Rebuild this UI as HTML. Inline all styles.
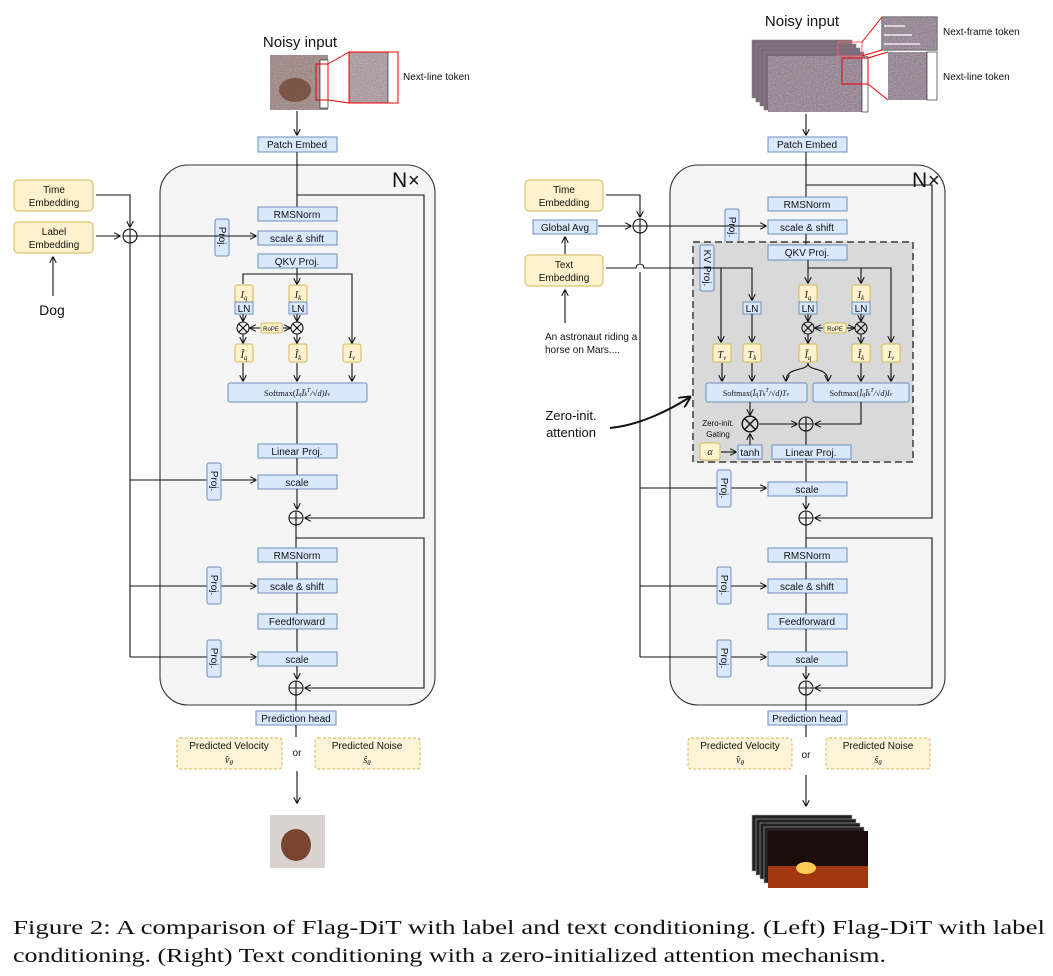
<!DOCTYPE html>
<html><head><meta charset="utf-8"><style>
html,body{margin:0;padding:0;background:#fff;width:1053px;height:976px;overflow:hidden}
svg{display:block}
text{font-family:"Liberation Sans",sans-serif;font-size:10px;fill:#111}
.b{fill:#dae8fc;stroke:#6c8ebf;stroke-width:1}
.y{fill:#fff2cc;stroke:#d6b656;stroke-width:1}
.l{fill:none;stroke:#111;stroke-width:1.1}
.m{font-family:"Liberation Serif",serif;font-style:italic}
.c{text-anchor:middle}
</style></head><body>
<svg width="1053" height="976" viewBox="0 0 1053 976" xmlns="http://www.w3.org/2000/svg">
<defs>
<marker id="a" viewBox="0 0 10 10" refX="9" refY="5" markerWidth="6" markerHeight="6" orient="auto-start-reverse"><path d="M0,0 L10,5 L0,10" fill="none" stroke="#111" stroke-width="1.6"/></marker>
<filter id="nz" x="0" y="0" width="100%" height="100%"><feTurbulence type="fractalNoise" baseFrequency="0.9" numOctaves="1" seed="3"/><feColorMatrix type="matrix" values="1.2 0 0 0 -0.05  0 1.1 0 0 -0.1  0 0 1.3 0 -0.1  0 0 0 0 1"/></filter>
<g id="ox"><circle r="7" fill="none" stroke="#111" stroke-width="1.1"/><path d="M-7,0H7M0,-7V7" stroke="#111" stroke-width="1.1"/></g>
<g id="mx"><circle r="6" fill="none" stroke="#111" stroke-width="1.1"/><path d="M-4.2,-4.2L4.2,4.2M-4.2,4.2L4.2,-4.2" stroke="#111" stroke-width="1.1"/></g>
</defs>

<!-- ================= LEFT ================= -->
<text x="300" y="47" class="c" style="font-size:15px">Noisy input</text>
<rect x="270" y="55" width="58" height="55" fill="#8a7262"/>
<rect x="270" y="55" width="58" height="55" filter="url(#nz)" opacity="0.45"/>
<ellipse cx="295" cy="90" rx="16" ry="12" fill="#6b3f2a" opacity="0.7"/>
<rect x="320" y="60" width="8" height="48" fill="#fff" stroke="#111" stroke-width="0.6"/>
<rect x="316" y="64" width="12" height="36" fill="none" stroke="#e00" stroke-width="1"/>
<path d="M328,64 L349,52 M328,100 L349,103" stroke="#e00" stroke-width="1"/>
<rect x="349" y="52" width="49" height="51" fill="#9a8f88"/>
<rect x="349" y="52" width="49" height="51" filter="url(#nz)" opacity="0.5"/>
<rect x="388" y="52" width="10" height="51" fill="#fff" stroke="#111" stroke-width="0.6"/>
<rect x="349" y="52" width="49" height="51" fill="none" stroke="#e00" stroke-width="1"/>
<text x="403" y="80">Next-line token</text>
<path class="l" d="M297,111V135" marker-end="url(#a)"/>
<rect class="b" x="258" y="137" width="79" height="15"/><text x="297" y="148" class="c">Patch Embed</text>

<rect x="160" y="165" width="275" height="540" rx="28" fill="#f5f5f5" stroke="#333" stroke-width="1.1"/>
<text x="392" y="187" style="font-size:21px">N</text><text x="408" y="187" style="font-size:20px">×</text>

<path class="l" d="M297,152V207"/>
<path class="l" d="M297,195H424V518H305" marker-end="url(#a)"/>
<rect class="b" x="258" y="207" width="79" height="14"/><text x="297" y="218" class="c">RMSNorm</text>
<rect class="b" x="215" y="219" width="14" height="37" rx="2"/><text transform="translate(219,237) rotate(90)" class="c">Proj.</text>
<rect class="b" x="258" y="231" width="79" height="14"/><text x="297" y="242" class="c">scale &amp; shift</text>
<rect class="b" x="258" y="254" width="79" height="14"/><text x="297" y="265" class="c">QKV Proj.</text>

<rect class="y" x="14" y="180" width="79" height="31" rx="4"/><text x="54" y="193" class="c">Time</text><text x="54" y="206" class="c">Embedding</text>
<rect class="y" x="14" y="222" width="79" height="31" rx="4"/><text x="54" y="235" class="c">Label</text><text x="54" y="248" class="c">Embedding</text>
<path class="l" d="M96,195H130V227" marker-end="url(#a)"/>
<path class="l" d="M96,236H120" marker-end="url(#a)"/>
<use href="#ox" x="130" y="236"/>
<path class="l" d="M53,296V257" marker-end="url(#a)"/>
<text x="52" y="315" class="c" style="font-size:14px">Dog</text>
<path class="l" d="M137,236H256" marker-end="url(#a)"/>
<path class="l" d="M130,243V657"/>
<path class="l" d="M130,480H256" marker-end="url(#a)"/>
<path class="l" d="M130,586H256" marker-end="url(#a)"/>
<path class="l" d="M130,657H256" marker-end="url(#a)"/>

<path class="l" d="M297,268V284" marker-end="url(#a)"/>
<path class="l" d="M243,284V274H352V343" marker-end="url(#a)"/>
<rect class="y" x="235" y="285" width="18" height="17" rx="2"/><text x="244" y="298" class="c m" style="font-size:10px">I<tspan style="font-size:7px" dy="2">q</tspan></text>
<rect class="y" x="289" y="285" width="18" height="17" rx="2"/><text x="298" y="298" class="c m" style="font-size:10px">I<tspan style="font-size:7px" dy="2">k</tspan></text>
<rect class="b" x="235" y="302" width="18" height="12"/><text x="244" y="312" class="c">LN</text>
<rect class="b" x="289" y="302" width="18" height="12"/><text x="298" y="312" class="c">LN</text>
<path class="l" d="M243,314V321" marker-end="url(#a)"/><path class="l" d="M297,314V321" marker-end="url(#a)"/>
<use href="#mx" x="243" y="328"/><use href="#mx" x="297" y="328"/>
<rect class="y" x="261" y="323" width="21" height="10" rx="2"/><text x="271" y="331" class="c" style="font-size:6px">RoPE</text>
<path class="l" d="M260,328H250" marker-end="url(#a)"/><path class="l" d="M283,328H290" marker-end="url(#a)"/>
<path class="l" d="M243,334V343" marker-end="url(#a)"/><path class="l" d="M297,334V343" marker-end="url(#a)"/>
<rect class="y" x="235" y="344" width="18" height="18" rx="2"/><text x="244" y="358" class="c m">Ĩ<tspan style="font-size:7px" dy="2">q</tspan></text>
<rect class="y" x="289" y="344" width="18" height="18" rx="2"/><text x="298" y="358" class="c m">Ĩ<tspan style="font-size:7px" dy="2">k</tspan></text>
<rect class="y" x="343" y="344" width="18" height="18" rx="2"/><text x="352" y="358" class="c m">I<tspan style="font-size:7px" dy="2">v</tspan></text>
<path class="l" d="M243,363V381" marker-end="url(#a)"/><path class="l" d="M297,363V381" marker-end="url(#a)"/><path class="l" d="M352,363V381" marker-end="url(#a)"/>
<rect class="b" x="228" y="383" width="139" height="19" rx="2"/><text x="297" y="396" class="c" style="font-family:'Liberation Serif',serif;font-size:8.5px">Softmax(<tspan font-style="italic">Ĩ<tspan font-size="6">q</tspan>Ĩ<tspan font-size="6">k</tspan><tspan font-size="6" dy="-4">T</tspan><tspan dy="4">/√d)I</tspan><tspan font-size="6">v</tspan></tspan></text>
<path class="l" d="M297,402V444"/>
<rect class="b" x="258" y="444" width="79" height="14"/><text x="297" y="455" class="c">Linear Proj.</text>
<path class="l" d="M297,458V475"/>
<rect class="b" x="207" y="463" width="14" height="37" rx="2"/><text transform="translate(211,481) rotate(90)" class="c">Proj.</text>
<rect class="b" x="258" y="475" width="79" height="14"/><text x="297" y="486" class="c">scale</text>
<path class="l" d="M297,489V509" marker-end="url(#a)"/>
<use href="#ox" x="296" y="518"/>
<path class="l" d="M296,525V548"/>
<path class="l" d="M296,538H424V688H305" marker-end="url(#a)"/>
<rect class="b" x="258" y="548" width="79" height="14"/><text x="297" y="559" class="c">RMSNorm</text>
<rect class="b" x="207" y="567" width="14" height="37" rx="2"/><text transform="translate(211,585) rotate(90)" class="c">Proj.</text>
<rect class="b" x="258" y="579" width="79" height="14"/><text x="297" y="590" class="c">scale &amp; shift</text>
<path class="l" d="M297,562V579M297,593V614"/>
<rect class="b" x="258" y="614" width="79" height="15"/><text x="297" y="625" class="c">Feedforward</text>
<path class="l" d="M297,629V652"/>
<rect class="b" x="207" y="640" width="14" height="37" rx="2"/><text transform="translate(211,658) rotate(90)" class="c">Proj.</text>
<rect class="b" x="258" y="652" width="79" height="14"/><text x="297" y="663" class="c">scale</text>
<path class="l" d="M297,666V679" marker-end="url(#a)"/>
<use href="#ox" x="296" y="688"/>
<path class="l" d="M296,695V711"/>
<rect class="b" x="256" y="711" width="80" height="14"/><text x="296" y="722" class="c">Prediction head</text>
<path class="l" d="M296,725V737"/>
<rect class="y" x="177" y="738" width="105" height="31" rx="3" style="stroke-dasharray:3,2;fill:#fdf3d6"/><text x="229" y="749" class="c">Predicted Velocity</text><text x="229" y="763" class="c m">v̂<tspan font-size="7" dy="2">θ</tspan></text>
<text x="297" y="756" class="c">or</text>
<rect class="y" x="315" y="738" width="105" height="31" rx="3" style="stroke-dasharray:3,2;fill:#fdf3d6"/><text x="367" y="749" class="c">Predicted Noise</text><text x="367" y="763" class="c m">ŝ<tspan font-size="7" dy="2">θ</tspan></text>
<path class="l" d="M297,771V803" marker-end="url(#a)"/>
<rect x="270" y="815" width="55" height="53" fill="#d9d2ce"/>
<ellipse cx="296" cy="845" rx="15" ry="16" fill="#7a4530"/>

<!-- ================= RIGHT ================= -->
<text x="802" y="26" class="c" style="font-size:15px">Noisy input</text>
<g fill="#7c6a7a" stroke="#888" stroke-width="0.6">
<rect x="752" y="40" width="100" height="58"/><rect x="756" y="44" width="100" height="58"/><rect x="760" y="48" width="100" height="58"/><rect x="764" y="52" width="100" height="58"/>
</g>
<rect x="768" y="56" width="100" height="56" fill="#6d5f6a"/>
<rect x="768" y="56" width="100" height="56" filter="url(#nz)" opacity="0.55"/>
<rect x="862" y="58" width="6" height="54" fill="#fff" stroke="#111" stroke-width="0.6"/>
<rect x="838" y="42" width="24" height="14" fill="none" stroke="#e66" stroke-width="1"/>
<rect x="842" y="58" width="26" height="26" fill="none" stroke="#e00" stroke-width="1"/>
<path d="M862,42L882,17M862,56L882,50M868,58L888,52M868,84L888,100" stroke="#e00" stroke-width="1"/>
<rect x="882" y="17" width="55" height="33" fill="#6d5f6a" stroke="#111" stroke-width="0.8"/>
<rect x="882" y="17" width="55" height="33" filter="url(#nz)" opacity="0.55"/>
<path d="M884,26H905M884,35H912M884,44H920" stroke="#fff" stroke-width="1.2"/>
<rect x="888" y="52" width="49" height="48" fill="#6d5f6a"/>
<rect x="888" y="52" width="49" height="48" filter="url(#nz)" opacity="0.55"/>
<rect x="927" y="52" width="10" height="48" fill="#fff" stroke="#111" stroke-width="0.6"/>
<text x="943" y="35">Next-frame token</text>
<text x="943" y="80">Next-line token</text>
<path class="l" d="M806,114V135" marker-end="url(#a)"/>
<rect class="b" x="768" y="137" width="79" height="15"/><text x="807" y="148" class="c">Patch Embed</text>

<rect x="670" y="165" width="275" height="540" rx="28" fill="#f5f5f5" stroke="#333" stroke-width="1.1"/>
<text x="912" y="187" style="font-size:21px">N</text><text x="928" y="187" style="font-size:20px">×</text>

<path class="l" d="M806,152V197"/>
<path class="l" d="M806,185H932V518H815" marker-end="url(#a)"/>
<rect class="b" x="768" y="197" width="79" height="14"/><text x="807" y="208" class="c">RMSNorm</text>
<rect class="b" x="725" y="209" width="14" height="37" rx="2"/><text transform="translate(729,227) rotate(90)" class="c">Proj.</text>
<rect class="b" x="768" y="220" width="79" height="14"/><text x="807" y="231" class="c">scale &amp; shift</text>

<rect class="y" x="525" y="180" width="78" height="31" rx="4"/><text x="564" y="193" class="c">Time</text><text x="564" y="206" class="c">Embedding</text>
<rect class="b" x="533" y="220" width="64" height="14"/><text x="565" y="231" class="c">Global Avg</text>
<rect class="y" x="525" y="255" width="78" height="31" rx="4"/><text x="564" y="268" class="c">Text</text><text x="564" y="281" class="c">Embedding</text>
<path class="l" d="M565,254V237" marker-end="url(#a)"/>
<path class="l" d="M606,195H640V217" marker-end="url(#a)"/>
<path class="l" d="M598,226H631" marker-end="url(#a)"/>
<use href="#ox" x="640" y="226"/>
<path class="l" d="M647,226H766" marker-end="url(#a)"/>
<path class="l" d="M640,233V263M640,272V657"/>
<path class="l" d="M565,323V290" marker-end="url(#a)"/>
<text x="545" y="340">An astronaut riding a</text>
<text x="545" y="353">horse on Mars....</text>

<rect x="693" y="242" width="220" height="220" fill="#d9d9d9" stroke="#666" stroke-width="2" stroke-dasharray="7,4"/>
<path class="l" d="M806,234V245"/>
<rect class="b" x="768" y="245" width="79" height="15"/><text x="807" y="256" class="c">QKV Proj.</text>
<rect class="b" x="700" y="245" width="14" height="46" rx="2"/><text transform="translate(704,268) rotate(90)" class="c">KV Proj.</text>
<path class="l" d="M606,268H636A4,4 0 0 1 644,268H752V300" marker-end="url(#a)"/>
<path class="l" d="M721,268V342" marker-end="url(#a)"/>
<rect class="b" x="743" y="302" width="18" height="12"/><text x="752" y="312" class="c">LN</text>
<path class="l" d="M752,314V342" marker-end="url(#a)"/>
<rect class="y" x="713" y="344" width="18" height="18" rx="2"/><text x="722" y="358" class="c m">T<tspan font-size="7" dy="2">v</tspan></text>
<rect class="y" x="743" y="344" width="18" height="18" rx="2"/><text x="752" y="358" class="c m">T<tspan font-size="7" dy="2">k</tspan></text>
<path class="l" d="M722,363V381" marker-end="url(#a)"/><path class="l" d="M752,363V381" marker-end="url(#a)"/>

<path class="l" d="M808,260V283" marker-end="url(#a)"/>
<path class="l" d="M808,268H861V283" marker-end="url(#a)"/>
<path class="l" d="M861,268H891V342" marker-end="url(#a)"/>
<rect class="y" x="799" y="285" width="18" height="17" rx="2"/><text x="808" y="298" class="c m">I<tspan font-size="7" dy="2">q</tspan></text>
<rect class="y" x="852" y="285" width="18" height="17" rx="2"/><text x="861" y="298" class="c m">I<tspan font-size="7" dy="2">k</tspan></text>
<rect class="b" x="799" y="302" width="18" height="12"/><text x="808" y="312" class="c">LN</text>
<rect class="b" x="852" y="302" width="18" height="12"/><text x="861" y="312" class="c">LN</text>
<path class="l" d="M808,314V321" marker-end="url(#a)"/><path class="l" d="M861,314V321" marker-end="url(#a)"/>
<use href="#mx" x="808" y="328"/><use href="#mx" x="861" y="328"/>
<rect class="y" x="824" y="323" width="22" height="10" rx="2"/><text x="835" y="331" class="c" style="font-size:6px">RoPE</text>
<path class="l" d="M823,328H815" marker-end="url(#a)"/><path class="l" d="M847,328H854" marker-end="url(#a)"/>
<path class="l" d="M808,334V343" marker-end="url(#a)"/><path class="l" d="M861,334V343" marker-end="url(#a)"/>
<rect class="y" x="799" y="344" width="18" height="18" rx="2"/><text x="808" y="358" class="c m">Ĩ<tspan font-size="7" dy="2">q</tspan></text>
<rect class="y" x="852" y="344" width="18" height="18" rx="2"/><text x="861" y="358" class="c m">Ĩ<tspan font-size="7" dy="2">k</tspan></text>
<rect class="y" x="882" y="344" width="18" height="18" rx="2"/><text x="891" y="358" class="c m">I<tspan font-size="7" dy="2">v</tspan></text>
<path class="l" d="M808,363C808,372 786,366 786,381" marker-end="url(#a)"/>
<path class="l" d="M808,363C808,372 828,366 828,381" marker-end="url(#a)"/>
<path class="l" d="M861,363V381" marker-end="url(#a)"/><path class="l" d="M891,363V381" marker-end="url(#a)"/>
<rect class="b" x="706" y="383" width="101" height="19" rx="2"/><text x="756" y="396" class="c" style="font-family:'Liberation Serif',serif;font-size:8px">Softmax(<tspan font-style="italic">Ĩ<tspan font-size="6">q</tspan>T<tspan font-size="6">k</tspan><tspan font-size="6" dy="-4">T</tspan><tspan dy="4">/√d)T</tspan><tspan font-size="6">v</tspan></tspan></text>
<rect class="b" x="813" y="383" width="96" height="19" rx="2"/><text x="861" y="396" class="c" style="font-family:'Liberation Serif',serif;font-size:8px">Softmax(<tspan font-style="italic">Ĩ<tspan font-size="6">q</tspan>Ĩ<tspan font-size="6">k</tspan><tspan font-size="6" dy="-4">T</tspan><tspan dy="4">/√d)I</tspan><tspan font-size="6">v</tspan></tspan></text>
<path class="l" d="M750,402V415" marker-end="url(#a)"/>
<g transform="translate(750,424) scale(1.3)"><use href="#mx"/></g>
<path class="l" d="M759,424H797" marker-end="url(#a)"/>
<use href="#ox" x="806" y="424"/>
<path class="l" d="M861,402V424H815" marker-end="url(#a)"/>
<text x="718" y="426" class="c" style="font-size:8px">Zero-init.</text>
<text x="718" y="437" class="c" style="font-size:8px">Gating</text>
<rect class="y" x="700" y="443" width="20" height="17" rx="2"/><text x="710" y="455" class="c m">α</text>
<path class="l" d="M721,452H736" marker-end="url(#a)"/>
<rect class="b" x="738" y="445" width="24" height="14"/><text x="750" y="456" class="c">tanh</text>
<path class="l" d="M750,445V434" marker-end="url(#a)"/>
<path class="l" d="M806,431V445"/>
<rect class="b" x="772" y="445" width="79" height="14"/><text x="811" y="456" class="c">Linear Proj.</text>
<path class="l" d="M806,459V482"/>
<text x="571" y="420" class="c" style="font-size:13px">Zero-init.</text>
<text x="571" y="437" class="c" style="font-size:13px">attention</text>
<path d="M610,428C640,425 670,410 690,397" fill="none" stroke="#111" stroke-width="2" marker-end="url(#a)"/>

<path class="l" d="M640,488H766" marker-end="url(#a)"/>
<path class="l" d="M640,586H766" marker-end="url(#a)"/>
<path class="l" d="M640,657H766" marker-end="url(#a)"/>
<rect class="b" x="717" y="470" width="14" height="37" rx="2"/><text transform="translate(721,488) rotate(90)" class="c">Proj.</text>
<rect class="b" x="768" y="482" width="79" height="14"/><text x="807" y="493" class="c">scale</text>
<path class="l" d="M806,496V509" marker-end="url(#a)"/>
<use href="#ox" x="806" y="518"/>
<path class="l" d="M806,525V548"/>
<path class="l" d="M806,538H932V688H815" marker-end="url(#a)"/>
<rect class="b" x="768" y="548" width="79" height="14"/><text x="807" y="559" class="c">RMSNorm</text>
<rect class="b" x="717" y="567" width="14" height="37" rx="2"/><text transform="translate(721,585) rotate(90)" class="c">Proj.</text>
<rect class="b" x="768" y="579" width="79" height="14"/><text x="807" y="590" class="c">scale &amp; shift</text>
<path class="l" d="M806,562V579M806,593V614"/>
<rect class="b" x="768" y="614" width="79" height="15"/><text x="807" y="625" class="c">Feedforward</text>
<path class="l" d="M806,629V652"/>
<rect class="b" x="717" y="640" width="14" height="37" rx="2"/><text transform="translate(721,658) rotate(90)" class="c">Proj.</text>
<rect class="b" x="768" y="652" width="79" height="14"/><text x="807" y="663" class="c">scale</text>
<path class="l" d="M806,666V679" marker-end="url(#a)"/>
<use href="#ox" x="806" y="688"/>
<path class="l" d="M806,695V711"/>
<rect class="b" x="768" y="711" width="79" height="14"/><text x="807" y="722" class="c">Prediction head</text>
<path class="l" d="M806,725V737"/>
<rect class="y" x="688" y="738" width="104" height="31" rx="3" style="stroke-dasharray:3,2;fill:#fdf3d6"/><text x="740" y="749" class="c">Predicted Velocity</text><text x="740" y="763" class="c m">v̂<tspan font-size="7" dy="2">θ</tspan></text>
<text x="806" y="758" class="c">or</text>
<rect class="y" x="826" y="738" width="104" height="31" rx="3" style="stroke-dasharray:3,2;fill:#fdf3d6"/><text x="878" y="749" class="c">Predicted Noise</text><text x="878" y="763" class="c m">ŝ<tspan font-size="7" dy="2">θ</tspan></text>
<path class="l" d="M806,775V806" marker-end="url(#a)"/>
<g stroke="#aaa" stroke-width="0.6" fill="#222">
<rect x="752" y="815" width="100" height="56"/><rect x="756" y="819" width="100" height="56"/><rect x="760" y="823" width="100" height="56"/><rect x="764" y="827" width="100" height="56"/>
</g>
<rect x="768" y="831" width="100" height="57" fill="#1a0d0a"/>
<rect x="768" y="866" width="100" height="22" fill="#a3370f"/>
<ellipse cx="806" cy="868" rx="10" ry="6" fill="#ffcc55"/>

<!-- caption -->
<text x="13" y="934" style="font-family:'Liberation Serif',serif;font-size:20.5px" textLength="1032" lengthAdjust="spacingAndGlyphs">Figure 2: A comparison of Flag-DiT with label and text conditioning. (Left) Flag-DiT with label</text>
<text x="13" y="962" style="font-family:'Liberation Serif',serif;font-size:20.5px" textLength="873" lengthAdjust="spacingAndGlyphs">conditioning. (Right) Text conditioning with a zero-initialized attention mechanism.</text>
</svg>
</body></html>
